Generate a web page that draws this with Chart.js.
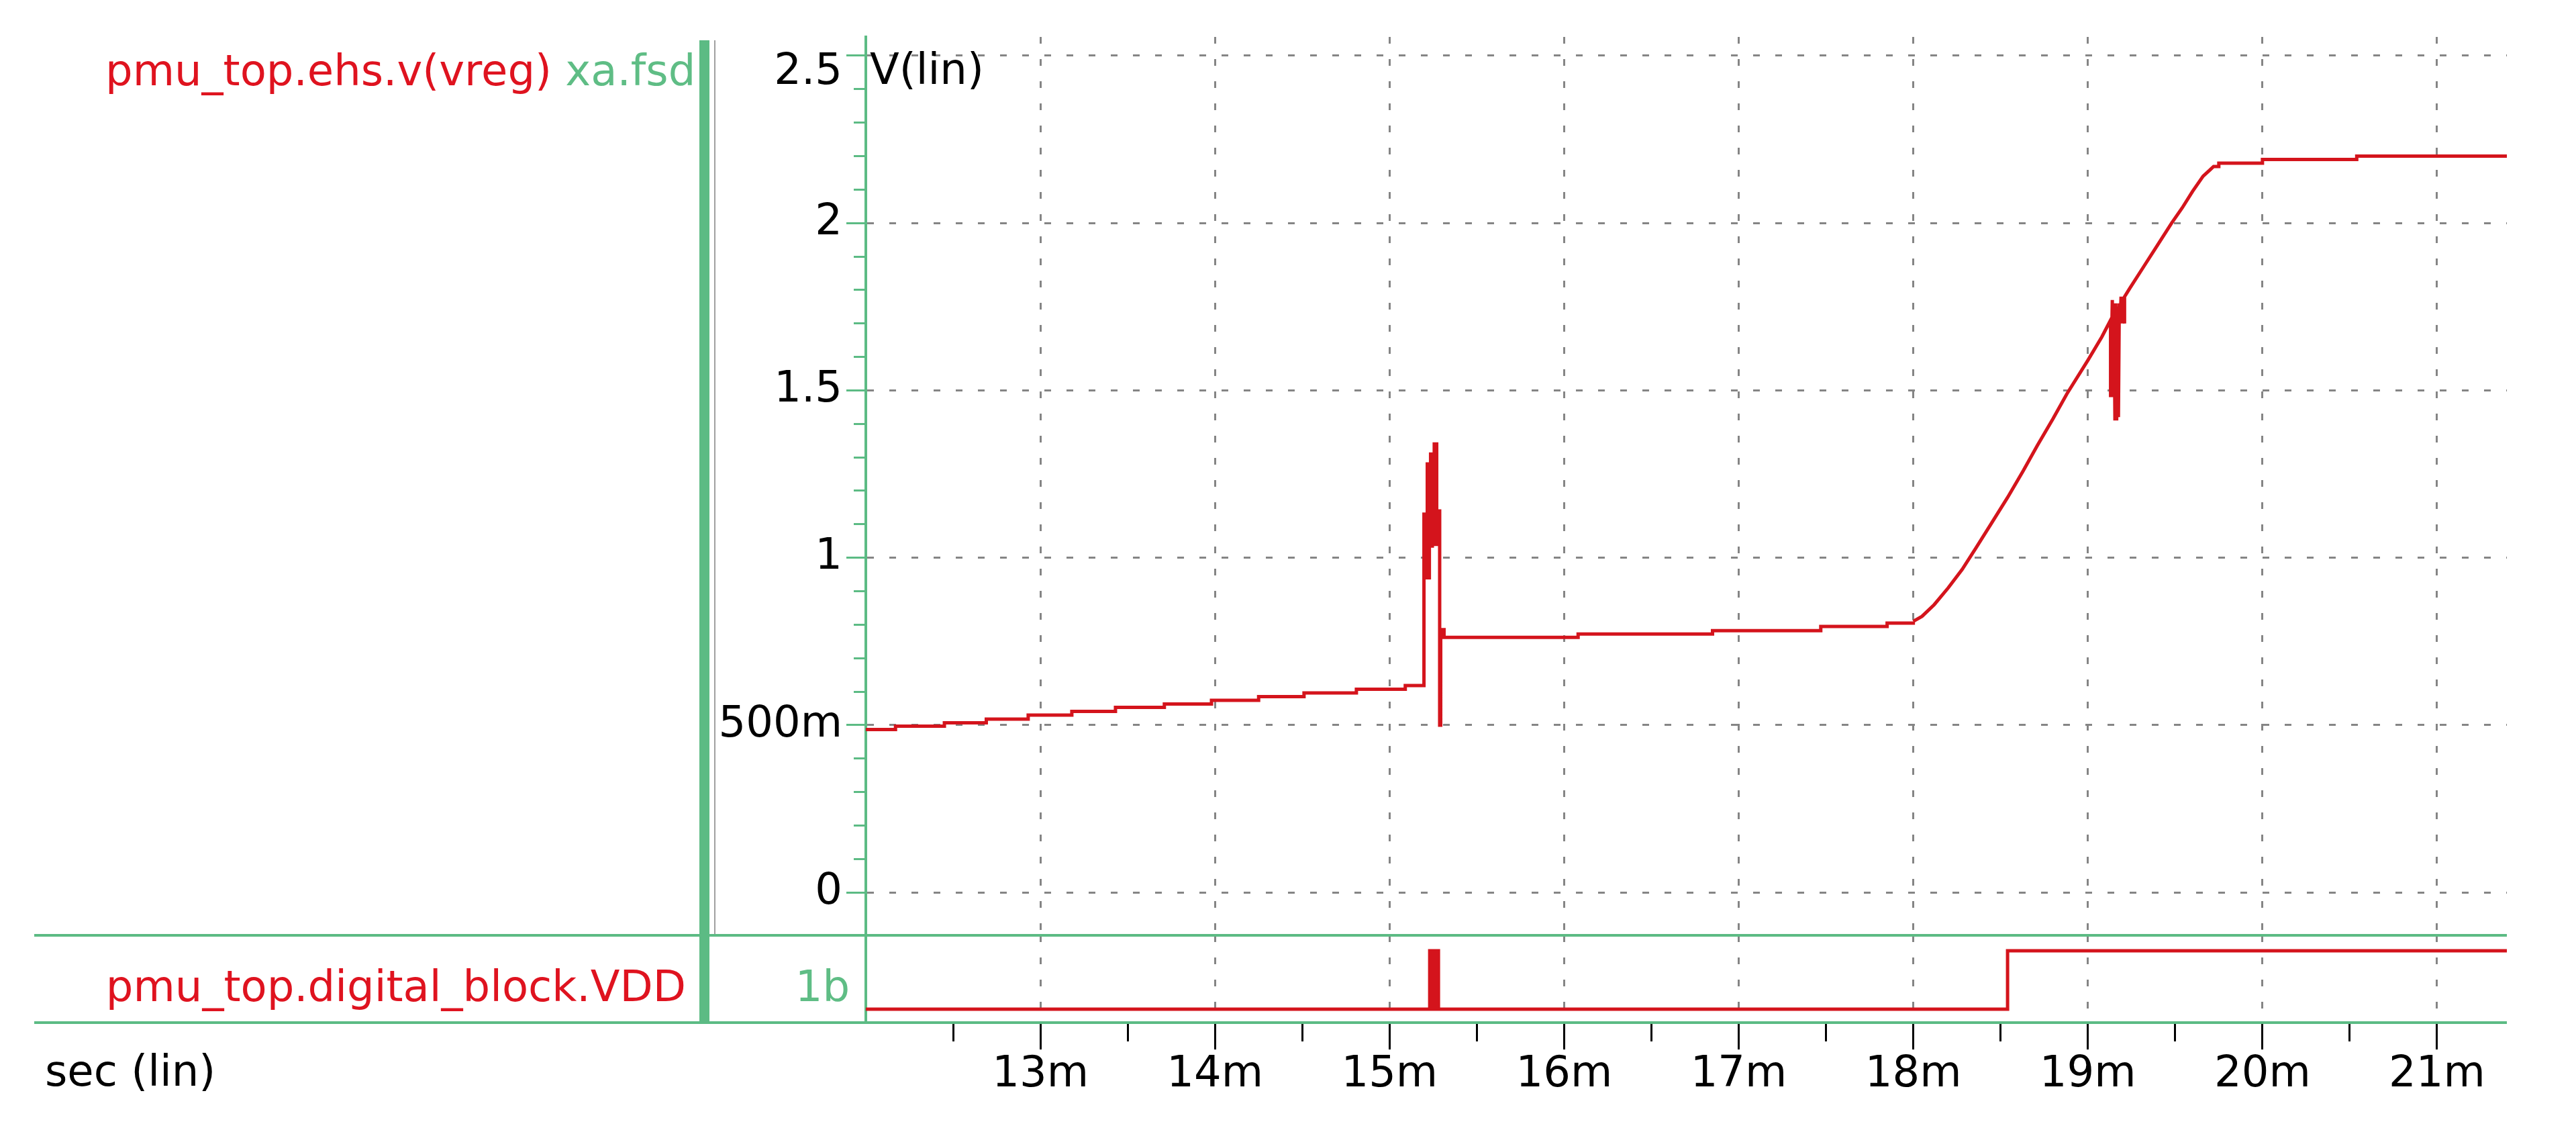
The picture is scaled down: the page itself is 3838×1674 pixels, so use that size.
<!DOCTYPE html>
<html>
<head>
<meta charset="utf-8">
<title>pmu_top vreg</title>
<script src="https://cdn.jsdelivr.net/npm/chart.js@4.4.1/dist/chart.umd.min.js"></script>
<style>
  html, body { margin: 0; padding: 0; background: #fff; }
  #page { position: relative; width: 3838px; height: 1674px; overflow: hidden;
    font-family: 'DejaVu Sans', sans-serif; font-size: 64px; line-height: 64px; }
  #page canvas { position: absolute; }
  .lbl { position: absolute; white-space: nowrap; }
  .red { color: #df131f; }
  .green { color: #5fbd85; }
  .rule { position: absolute; background: #5cbb84; }
</style>
</head>
<body>
<div id="page">
  <canvas id="vreg-chart" width="2838" height="1400" style="left:1000px;top:0"></canvas>
  <canvas id="vdd-chart" width="2838" height="294" style="left:1000px;top:1380px"></canvas>

  <div class="lbl" style="left:157px;top:63px;padding:10px 0 20px;width:885px;overflow:hidden"><span class="red">pmu_top.ehs.v(vreg)</span> <span class="green">xa.fsd</span></div>
  <div class="lbl red" style="right:2816px;top:1437px">pmu_top.digital_block.VDD</div>
  <div class="lbl green" style="right:2572px;top:1437px">1b</div>
  <div class="lbl" style="left:1296px;top:71px;color:#000">V(lin)</div>
  <div class="lbl" style="left:67px;top:1563px;color:#000">sec (lin)</div>

  <div class="rule" style="left:1042px;top:60px;width:15px;height:1463px"></div>
  <div class="rule" style="left:1064px;top:60px;width:2px;height:1333px;background:#a0a0a0"></div>
  <div class="rule" style="left:51px;top:1391px;width:3684px;height:4px"></div>
  <div class="rule" style="left:51px;top:1521px;width:3684px;height:4px"></div>
</div>

<script>
'use strict'

/* ------------------------------ Data ------------------------------ */

// time axis, ms
const timeMajorTicks = [13, 14, 15, 16, 17, 18, 19, 20, 21]
const timeTickLabels = ['13m', '14m', '15m', '16m', '17m', '18m', '19m', '20m', '21m']
const timeMinorTicks = [12.5, 13.5, 14.5, 15.5, 16.5, 17.5, 18.5, 19.5, 20.5]

// voltage axis, V
const voltMajorTicks = [0, 0.5, 1, 1.5, 2, 2.5]
const voltTickLabels = ['0', '500m', '1', '1.5', '2', '2.5']
const voltMinorTicks = [0.1, 0.2, 0.3, 0.4, 0.6, 0.7, 0.8, 0.9, 1.1, 1.2, 1.3, 1.4,
  1.6, 1.7, 1.8, 1.9, 2.1, 2.2, 2.3, 2.4]

// pmu_top.ehs.v(vreg): slow staircase, glitch at 15.2m, flat part up to 18m
const vregStairTimes = [12.0, 12.17, 12.45, 12.69, 12.93, 13.18, 13.43, 13.71, 13.98, 14.25, 14.51, 14.81, 15.09,
  15.197, 15.205, 15.21, 15.216, 15.222, 15.228, 15.235, 15.24, 15.245, 15.25, 15.256, 15.261, 15.266, 15.27,
  15.274, 15.287, 15.293, 15.312, 16.08, 16.85, 17.47, 17.85, 18.0]
const vregStairVolts = [0.487, 0.497, 0.507, 0.518, 0.53, 0.541, 0.553, 0.563, 0.574, 0.585, 0.596, 0.607, 0.618,
  1.13, 0.94, 1.13, 1.28, 0.94, 1.28, 1.31, 1.035, 1.31, 1.04, 1.34, 1.04, 1.34, 1.04,
  1.14, 0.5, 0.785, 0.762, 0.772, 0.782, 0.795, 0.805, 0.81]

// pmu_top.ehs.v(vreg): ramp from 18m, glitch at 19.15m, settling near 2.2
const vregRampTimes = [18.0, 18.05, 18.12, 18.2, 18.28, 18.36, 18.45, 18.54, 18.63, 18.71, 18.8, 18.88,
  19.0, 19.08, 19.13, 19.13, 19.14, 19.14, 19.15, 19.155, 19.16, 19.165, 19.17, 19.175, 19.18, 19.185,
  19.19, 19.195, 19.2, 19.21, 19.21, 19.24, 19.32, 19.4, 19.48, 19.54, 19.6, 19.66, 19.7,
  19.72, 19.75, 19.75, 20.0, 20.0, 20.54, 20.54, 21.4]
const vregRampVolts = [0.81, 0.825, 0.86, 0.91, 0.965, 1.03, 1.105, 1.18, 1.26, 1.335, 1.415, 1.49,
  1.59, 1.66, 1.71, 1.48, 1.77, 1.48, 1.76, 1.41, 1.76, 1.41, 1.75, 1.42, 1.76, 1.7,
  1.78, 1.7, 1.78, 1.7, 1.78, 1.805, 1.87, 1.935, 2.0, 2.045, 2.095, 2.14, 2.159,
  2.169, 2.169, 2.179, 2.179, 2.19, 2.19, 2.2, 2.2]

// pmu_top.digital_block.VDD, logic level
const vddTimes = [12.0, 15.23, 15.24, 15.25, 15.26, 15.27, 15.28, 18.54, 21.4]
const vddLevels = [0, 1, 0, 1, 0, 1, 0, 1, 1]

/* ------------------------------ Styles ------------------------------ */

const RED = '#d4141c'
const GRID_GREY = '#858585'
const AXIS_GREEN = '#5cbb84'
const NONE = 'rgba(0,0,0,0)'
const FONT = { family: "'DejaVu Sans', sans-serif", size: 64 }

/* ---------------------------------------------- */

function toPoints (xs, ys) {
  return xs.map((x, i) => ({ x: x, y: ys[i] }))
}

function setTicks (values) {
  return scale => {
    scale.ticks = values.slice().sort((a, b) => a - b).map(v => ({ value: v }))
  }
}

function lineSet (xs, ys, stepped) {
  return {
    data: toPoints(xs, ys),
    stepped: stepped,
    borderColor: RED,
    borderWidth: 5,
    pointRadius: 0,
    tension: 0
  }
}

const baseOptions = {
  responsive: false,
  animation: false,
  events: [],
  plugins: { legend: { display: false }, tooltip: { enabled: false } }
}

const isVoltMajor = ctx => voltMajorTicks.includes(ctx.tick.value)
const isTimeMajor = ctx => timeMajorTicks.includes(ctx.tick.value)

// main panel: vreg
new Chart(document.getElementById('vreg-chart'), {
  type: 'line',
  data: {
    datasets: [
      lineSet(vregStairTimes, vregStairVolts, true),
      lineSet(vregRampTimes, vregRampVolts, false)
    ]
  },
  options: {
    ...baseOptions,
    layout: { autoPadding: false, padding: { left: 0, top: 55, right: 103, bottom: 7 } },
    scales: {
      x: {
        type: 'linear',
        min: 12,
        max: 21.4,
        afterBuildTicks: setTicks(timeMajorTicks),
        afterFit: s => { s.height = 0 },
        ticks: { display: false },
        grid: { color: GRID_GREY, lineWidth: 3, drawTicks: false },
        border: { display: false, dash: [10, 23] }
      },
      y: {
        type: 'linear',
        min: -0.128,
        max: 2.556,
        afterBuildTicks: setTicks(voltMajorTicks.concat(voltMinorTicks)),
        afterFit: s => { s.width = 290; s.paddingTop = 0; s.paddingBottom = 0 },
        ticks: {
          color: '#000',
          padding: 6,
          autoSkip: false,
          font: ctx => ({ ...FONT, lineHeight: ctx.tick && ctx.tick.value === 2.5 ? 0.78 : 1.2 }),
          callback: value => {
            const i = voltMajorTicks.indexOf(value)
            if (i < 0) return ''
            // top label sits just under its tick, as in the viewer
            return value === 2.5 ? ['', voltTickLabels[i]] : voltTickLabels[i]
          }
        },
        grid: {
          color: ctx => isVoltMajor(ctx) ? GRID_GREY : NONE,
          lineWidth: 3,
          tickColor: AXIS_GREEN,
          tickWidth: 3,
          tickLength: 29,
          tickBorderDash: ctx => isVoltMajor(ctx) ? [] : [0, 11, 18, 100]
        },
        border: { color: AXIS_GREEN, width: 4, dash: [10, 23] }
      }
    }
  }
})

// bottom panel: digital VDD and the time axis
new Chart(document.getElementById('vdd-chart'), {
  type: 'line',
  data: {
    datasets: [lineSet(vddTimes, vddLevels, true)]
  },
  options: {
    ...baseOptions,
    layout: { autoPadding: false, padding: { left: 0, top: 13, right: 103, bottom: 31 } },
    scales: {
      x: {
        type: 'linear',
        min: 12,
        max: 21.4,
        afterBuildTicks: setTicks(timeMajorTicks.concat(timeMinorTicks)),
        afterFit: s => { s.height = 120 },
        ticks: {
          color: '#000',
          font: FONT,
          padding: 0,
          autoSkip: false,
          maxRotation: 0,
          minRotation: 0,
          callback: value => {
            const i = timeMajorTicks.indexOf(value)
            return i < 0 ? '' : timeTickLabels[i]
          }
        },
        grid: {
          color: ctx => isTimeMajor(ctx) ? GRID_GREY : NONE,
          lineWidth: 3,
          tickColor: '#000',
          tickWidth: 3,
          tickLength: 40,
          tickBorderDash: ctx => isTimeMajor(ctx) ? [] : [28, 100]
        },
        border: { display: false, dash: [10, 23] }
      },
      y: {
        type: 'linear',
        min: -0.23,
        max: 1.264,
        afterFit: s => { s.width = 290 },
        ticks: { display: false },
        grid: { display: false },
        border: { color: AXIS_GREEN, width: 4 }
      }
    }
  }
})
</script>
</body>
</html>
